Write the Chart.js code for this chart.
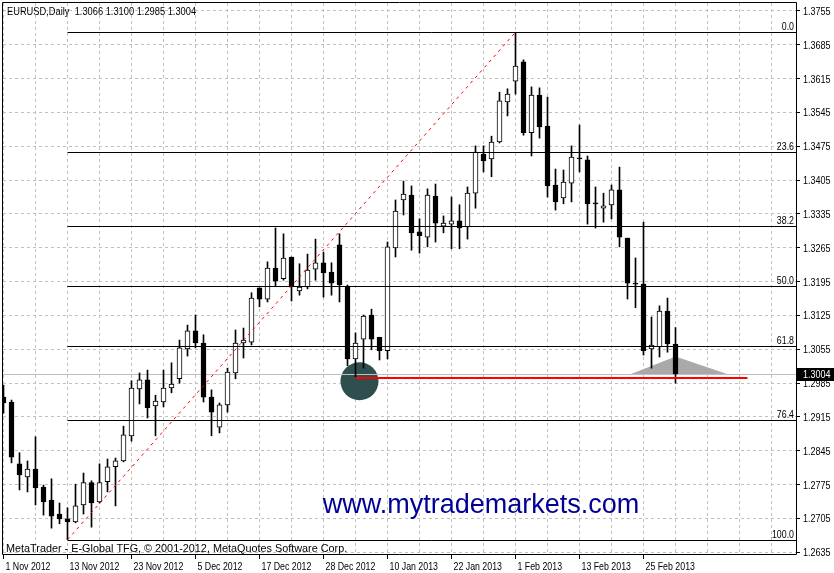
<!DOCTYPE html>
<html><head><meta charset="utf-8">
<script src="https://cdn.jsdelivr.net/npm/chart.js@4.4.1/dist/chart.umd.min.js"></script>
<style>html,body{margin:0;padding:0;background:#fff;}canvas{display:block;}</style>
</head><body>
<canvas id="c" width="834" height="573"></canvas>
<script>
const symbolTitle = 'EURUSD,Daily';
const dates = ['1 Nov 2012','2 Nov 2012','5 Nov 2012','6 Nov 2012','7 Nov 2012','8 Nov 2012','9 Nov 2012','12 Nov 2012',
'13 Nov 2012','14 Nov 2012','15 Nov 2012','16 Nov 2012','19 Nov 2012','20 Nov 2012','21 Nov 2012','22 Nov 2012',
'23 Nov 2012','26 Nov 2012','27 Nov 2012','28 Nov 2012','29 Nov 2012','30 Nov 2012','3 Dec 2012','4 Dec 2012',
'5 Dec 2012','6 Dec 2012','7 Dec 2012','10 Dec 2012','11 Dec 2012','12 Dec 2012','13 Dec 2012','14 Dec 2012',
'17 Dec 2012','18 Dec 2012','19 Dec 2012','20 Dec 2012','21 Dec 2012','24 Dec 2012','26 Dec 2012','27 Dec 2012',
'28 Dec 2012','31 Dec 2012','2 Jan 2013','3 Jan 2013','4 Jan 2013','7 Jan 2013','8 Jan 2013','9 Jan 2013',
'10 Jan 2013','11 Jan 2013','14 Jan 2013','15 Jan 2013','16 Jan 2013','17 Jan 2013','18 Jan 2013','21 Jan 2013',
'22 Jan 2013','23 Jan 2013','24 Jan 2013','25 Jan 2013','28 Jan 2013','29 Jan 2013','30 Jan 2013','31 Jan 2013',
'1 Feb 2013','4 Feb 2013','5 Feb 2013','6 Feb 2013','7 Feb 2013','8 Feb 2013','11 Feb 2013','12 Feb 2013',
'13 Feb 2013','14 Feb 2013','15 Feb 2013','18 Feb 2013','19 Feb 2013','20 Feb 2013','21 Feb 2013','22 Feb 2013',
'25 Feb 2013','26 Feb 2013','27 Feb 2013','28 Feb 2013','1 Mar 2013'];

const opens = [1.2956,1.2946,1.2818,1.2791,1.2807,1.2770,1.2743,1.2714,1.2704,1.2698,1.2733,1.2779,1.2739,1.2781,1.2812,1.2824,
1.2876,1.2973,1.2992,1.2938,1.2946,1.2975,1.2994,1.3056,1.3093,1.3068,1.2956,1.2894,1.2940,1.3006,1.3068,1.3070,
1.3182,1.3159,1.3223,1.3201,1.3246,1.3176,1.3184,1.3221,1.3234,1.3215,1.3271,1.3186,1.3035,1.3076,1.3126,1.3080,
1.3052,1.3265,1.3364,1.3374,1.3298,1.3287,1.3372,1.3310,1.3314,1.3321,1.3308,1.3378,1.3459,1.3449,1.3484,1.3567,
1.3610,1.3650,1.3503,1.3581,1.3517,1.3395,1.3368,1.3399,1.3451,1.3447,1.3358,1.3347,1.3354,1.3385,1.3285,1.3192,
1.3190,1.3056,1.3060,1.3134,1.3066];
const highs = [1.2981,1.2950,1.2841,1.2824,1.2874,1.2774,1.2787,1.2737,1.2727,1.2776,1.2799,1.2783,1.2818,1.2828,1.2830,1.2896,
1.2990,1.3006,1.3012,1.2960,1.3012,1.3027,1.3074,1.3105,1.3126,1.3085,1.2971,1.2944,1.3016,1.3095,1.3099,1.3172,
1.3182,1.3236,1.3306,1.3294,1.3246,1.3232,1.3252,1.3283,1.3256,1.3234,1.3294,1.3188,1.3089,1.3126,1.3138,1.3080,
1.3277,1.3364,1.3403,1.3393,1.3325,1.3387,1.3397,1.3331,1.3370,1.3354,1.3391,1.3476,1.3476,1.3496,1.3587,1.3594,
1.3711,1.3654,1.3598,1.3596,1.3577,1.3428,1.3426,1.3476,1.3519,1.3455,1.3391,1.3378,1.3395,1.3432,1.3285,1.3244,
1.3318,1.3122,1.3145,1.3161,1.3100];
const lows = [1.2923,1.2820,1.2764,1.2760,1.2733,1.2712,1.2685,1.2694,1.2661,1.2696,1.2714,1.2687,1.2737,1.2760,1.2731,1.2822,
1.2865,1.2942,1.2913,1.2876,1.2936,1.2965,1.2985,1.3041,1.3058,1.2946,1.2876,1.2882,1.2925,1.2994,1.3037,1.3064,
1.3143,1.3153,1.3186,1.3198,1.3155,1.3167,1.3180,1.3198,1.3163,1.3167,1.3153,1.3021,1.2998,1.3016,1.3054,1.3033,
1.3035,1.3246,1.3333,1.3260,1.3254,1.3267,1.3277,1.3296,1.3263,1.3263,1.3283,1.3347,1.3422,1.3412,1.3482,1.3538,
1.3583,1.3498,1.3455,1.3492,1.3370,1.3343,1.3356,1.3360,1.3422,1.3314,1.3306,1.3318,1.3325,1.3267,1.3159,1.3141,
1.3043,1.3016,1.3039,1.3049,1.2985];
const closes = [1.2944,1.2832,1.2795,1.2807,1.2768,1.2739,1.2710,1.2704,1.2698,1.2731,1.2779,1.2737,1.2779,1.2812,1.2824,1.2878,
1.2975,1.2992,1.2934,1.2948,1.2975,1.2983,1.3058,1.3093,1.3068,1.2956,1.2925,1.2940,1.3008,1.3068,1.3074,1.3161,
1.3159,1.3223,1.3196,1.3244,1.3186,1.3184,1.3219,1.3234,1.3213,1.3192,1.3188,1.3035,1.3068,1.3124,1.3076,1.3052,
1.3267,1.3341,1.3376,1.3296,1.3290,1.3374,1.3316,1.3316,1.3321,1.3306,1.3378,1.3463,1.3445,1.3484,1.3569,1.3583,
1.3641,1.3503,1.3581,1.3515,1.3393,1.3360,1.3401,1.3453,1.3449,1.3356,1.3356,1.3352,1.3385,1.3287,1.3192,1.3190,
1.3052,1.3064,1.3134,1.3066,1.3004];

const priceTicks = [1.2635,1.2705,1.2775,1.2845,1.2915,1.2985,1.3055,1.3125,1.3195,1.3265,1.3335,1.3405,1.3475,1.3545,1.3615,1.3685,1.3755];

// Fibonacci retracement (swing low bar 8 -> swing high bar 64)
const fibLevels = [0, 23.6, 38.2, 50, 61.8, 76.4, 100];
const fibLevelLabels = ['0.0','23.6','38.2','50.0','61.8','76.4','100.0'];
const fibHigh = 1.3711, fibLow = 1.2661;
const fibLowBar = 8, fibHighBar = 64;

// support line, circle and triangle objects
const supportLine = [{x:44, y:1.2996},{x:93, y:1.2996}];
const circleMark = [{x:44.5, y:1.2989}];
const triangleMark = [{x:78.3, y:1.3002},{x:84, y:1.3039},{x:90.6, y:1.3002}];
const triangleBase = 1.3002;
const watermark = {x:39.9, y:1.27163, text:'www.mytrademarkets.com'};
const copyright = 'MetaTrader - E-Global TFG, \u00A9 2001-2012, MetaQuotes Software Corp.';

const X_MIN = -0.0625, X_MAX = 99.0625;
const Y_MIN = 1.263147, Y_MAX = 1.377155;
const FONT = "'Liberation Sans', Arial, sans-serif";

Chart.defaults.font.family = FONT;
Chart.defaults.font.size = 11;
Chart.defaults.color = '#000';

const n = closes.length;
const bodyData = opens.map((o,i)=>({x:i, y:[o, closes[i]]}));
const wickData = lows.map((l,i)=>({x:i, y:[l, highs[i]]}));
const bodyColors = opens.map((o,i)=> closes[i] > o ? '#ffffff' : '#000000');
const lastClose = closes[n-1];

const datasets = [];
datasets.push({type:'bar', data: bodyData, backgroundColor: bodyColors, borderColor:'#000', borderWidth:1,
  borderSkipped:false, barThickness:5, grouped:false, minBarLength:1, order:40});
datasets.push({type:'bar', data: wickData, backgroundColor:'#000', borderWidth:0, barThickness:1, grouped:false, order:50});
fibLevels.forEach((lv)=>{
  const p = fibHigh - (fibHigh - fibLow) * lv / 100;
  datasets.push({type:'line', data:[{x:fibLowBar, y:p},{x:X_MAX, y:p}], borderColor:'#000', borderWidth:1,
    pointRadius:0, tension:0, fill:false, order:30, snap:true});
});
datasets.push({type:'line', data:[{x:fibLowBar, y:fibLow},{x:fibHighBar, y:fibHigh}], borderColor:'#ff0000', borderWidth:1,
  borderDash:[3,4], pointRadius:0, tension:0, fill:false, order:20});
datasets.push({type:'line', data: supportLine, borderColor:'#ff0000', borderWidth:2, pointRadius:0, fill:false, order:10, snap:true});
datasets.push({type:'line', data:[{x:X_MIN, y:lastClose},{x:X_MAX, y:lastClose}], borderColor:'#c0c0c0', borderWidth:1,
  pointRadius:0, fill:false, order:60, snap:true});
datasets.push({type:'line', data: triangleMark, borderColor:'#a9a9a9', backgroundColor:'#a9a9a9', borderWidth:1,
  pointRadius:0, tension:0, fill:{value: triangleBase}, order:99});
datasets.push({type:'scatter', data: circleMark, pointRadius:19, pointHoverRadius:19, pointBackgroundColor:'#2f4f4f',
  pointBorderWidth:0, backgroundColor:'#2f4f4f', borderWidth:0, order:100});

function narrowText(ctx, text, x, y, align, sx){
  ctx.save();
  ctx.translate(x, y);
  ctx.scale(sx, 1);
  ctx.textAlign = align;
  ctx.fillText(text, 0, 0);
  ctx.restore();
}

// snap horizontal object lines onto whole pixels (crisp like the terminal)
const pixelSnap = {
  id:'pixelSnap',
  beforeDatasetDraw(chart, args){
    const ds = chart.data.datasets[args.index];
    if (!ds.snap) return;
    const py = chart.scales.y.getPixelForValue(ds.data[0].y);
    const w = ds.borderWidth || 1;
    const target = (w % 2 === 1) ? Math.round(py) + 0.5 : Math.round(py);
    chart.ctx.save();
    chart.ctx.translate(0, target - py);
    args._snapped = true;
  },
  afterDatasetDraw(chart, args){
    const ds = chart.data.datasets[args.index];
    if (ds.snap) chart.ctx.restore();
  }
};

const overlay = {
  id:'overlay',
  afterDraw(chart){
    const {ctx, chartArea:a, scales:{x, y}} = chart;
    ctx.save();
    // frame
    ctx.strokeStyle = '#000'; ctx.lineWidth = 1;
    ctx.beginPath();
    ctx.moveTo(a.left-0.5, a.bottom+0.5); ctx.lineTo(a.left-0.5, a.top-0.5); ctx.lineTo(a.right+0.5, a.top-0.5);
    ctx.lineTo(a.right+0.5, a.bottom+0.5); ctx.lineTo(a.left-0.5, a.bottom+0.5);
    ctx.stroke();
    ctx.font = '11px ' + FONT;
    ctx.fillStyle = '#000';
    ctx.textBaseline = 'alphabetic';
    // axis labels from the library's scales
    x.ticks.forEach(t=>{
      const lbl = (t.value % 8 === 0 && dates[t.value]) ? dates[t.value] : '';
      if (lbl) narrowText(ctx, lbl, x.getPixelForValue(t.value)+2, a.bottom+15.5, 'left', 0.8);
    });
    y.ticks.forEach(t=>{
      narrowText(ctx, t.value.toFixed(4), a.right+7, Math.round(y.getPixelForValue(t.value))+4, 'left', 0.82);
    });
    // title
    narrowText(ctx, symbolTitle + '  ' + [opens[n-1], highs[n-1], lows[n-1], closes[n-1]].map(v=>v.toFixed(4)).join(' '),
      a.left+4, a.top+12, 'left', 0.845);
    // copyright
    narrowText(ctx, copyright, a.left+3, a.bottom-2.5, 'left', 0.985);
    // fib labels
    fibLevels.forEach((lv,i)=>{
      const p = fibHigh - (fibHigh - fibLow) * lv / 100;
      narrowText(ctx, fibLevelLabels[i], a.right-2, Math.round(y.getPixelForValue(p))-2, 'right', 0.8);
    });
    // watermark
    ctx.font = '27px ' + FONT;
    ctx.fillStyle = '#000096';
    ctx.textAlign = 'left';
    ctx.fillText(watermark.text, x.getPixelForValue(watermark.x), y.getPixelForValue(watermark.y));
    // price box
    const py = Math.round(y.getPixelForValue(lastClose));
    ctx.fillStyle = '#000';
    ctx.fillRect(a.right+1, py-6, chart.width - a.right - 1, 13);
    ctx.fillStyle = '#fff';
    ctx.font = '11px ' + FONT;
    narrowText(ctx, lastClose.toFixed(4), a.right+7, py+4, 'left', 0.82);
    ctx.restore();
  }
};

new Chart(document.getElementById('c'), {
  type:'bar',
  data:{datasets},
  options:{
    responsive:false, animation:false, devicePixelRatio:1,
    layout:{padding:{left:3, top:3, right:0, bottom:0}, autoPadding:false},
    plugins:{legend:{display:false}, tooltip:{enabled:false}},
    events:[],
    scales:{
      x:{type:'linear', position:'bottom', min:X_MIN, max:X_MAX, offset:false,
        afterBuildTicks(s){ const t=[]; for(let v=0; v<=96; v+=4) t.push({value:v}); s.ticks=t; },
        afterFit(s){ s.height = 19; s.paddingLeft=0; s.paddingRight=0; },
        ticks:{display:false, autoSkip:false, maxRotation:0, minRotation:0},
        grid:{offset:false, color:'#c0c0c0', lineWidth:1, tickLength:5, drawTicks:true,
          tickColor:(c)=> (c.tick && c.tick.value % 8 === 0 && dates[c.tick.value]) ? '#000' : 'rgba(0,0,0,0)'},
        border:{display:false, dash:[3,3]}
      },
      y:{type:'linear', position:'right', min:Y_MIN, max:Y_MAX, beginAtZero:false,
        afterBuildTicks(s){ s.ticks = priceTicks.map(v=>({value:v})); },
        afterFit(s){ s.width = 38; s.paddingTop=0; s.paddingBottom=0; },
        ticks:{display:false, autoSkip:false},
        grid:{color:'#c0c0c0', lineWidth:1, tickLength:4, tickColor:'#000'},
        border:{display:false, dash:[3,3]}
      }
    }
  },
  plugins:[pixelSnap, overlay]
});
</script>
</body></html>
